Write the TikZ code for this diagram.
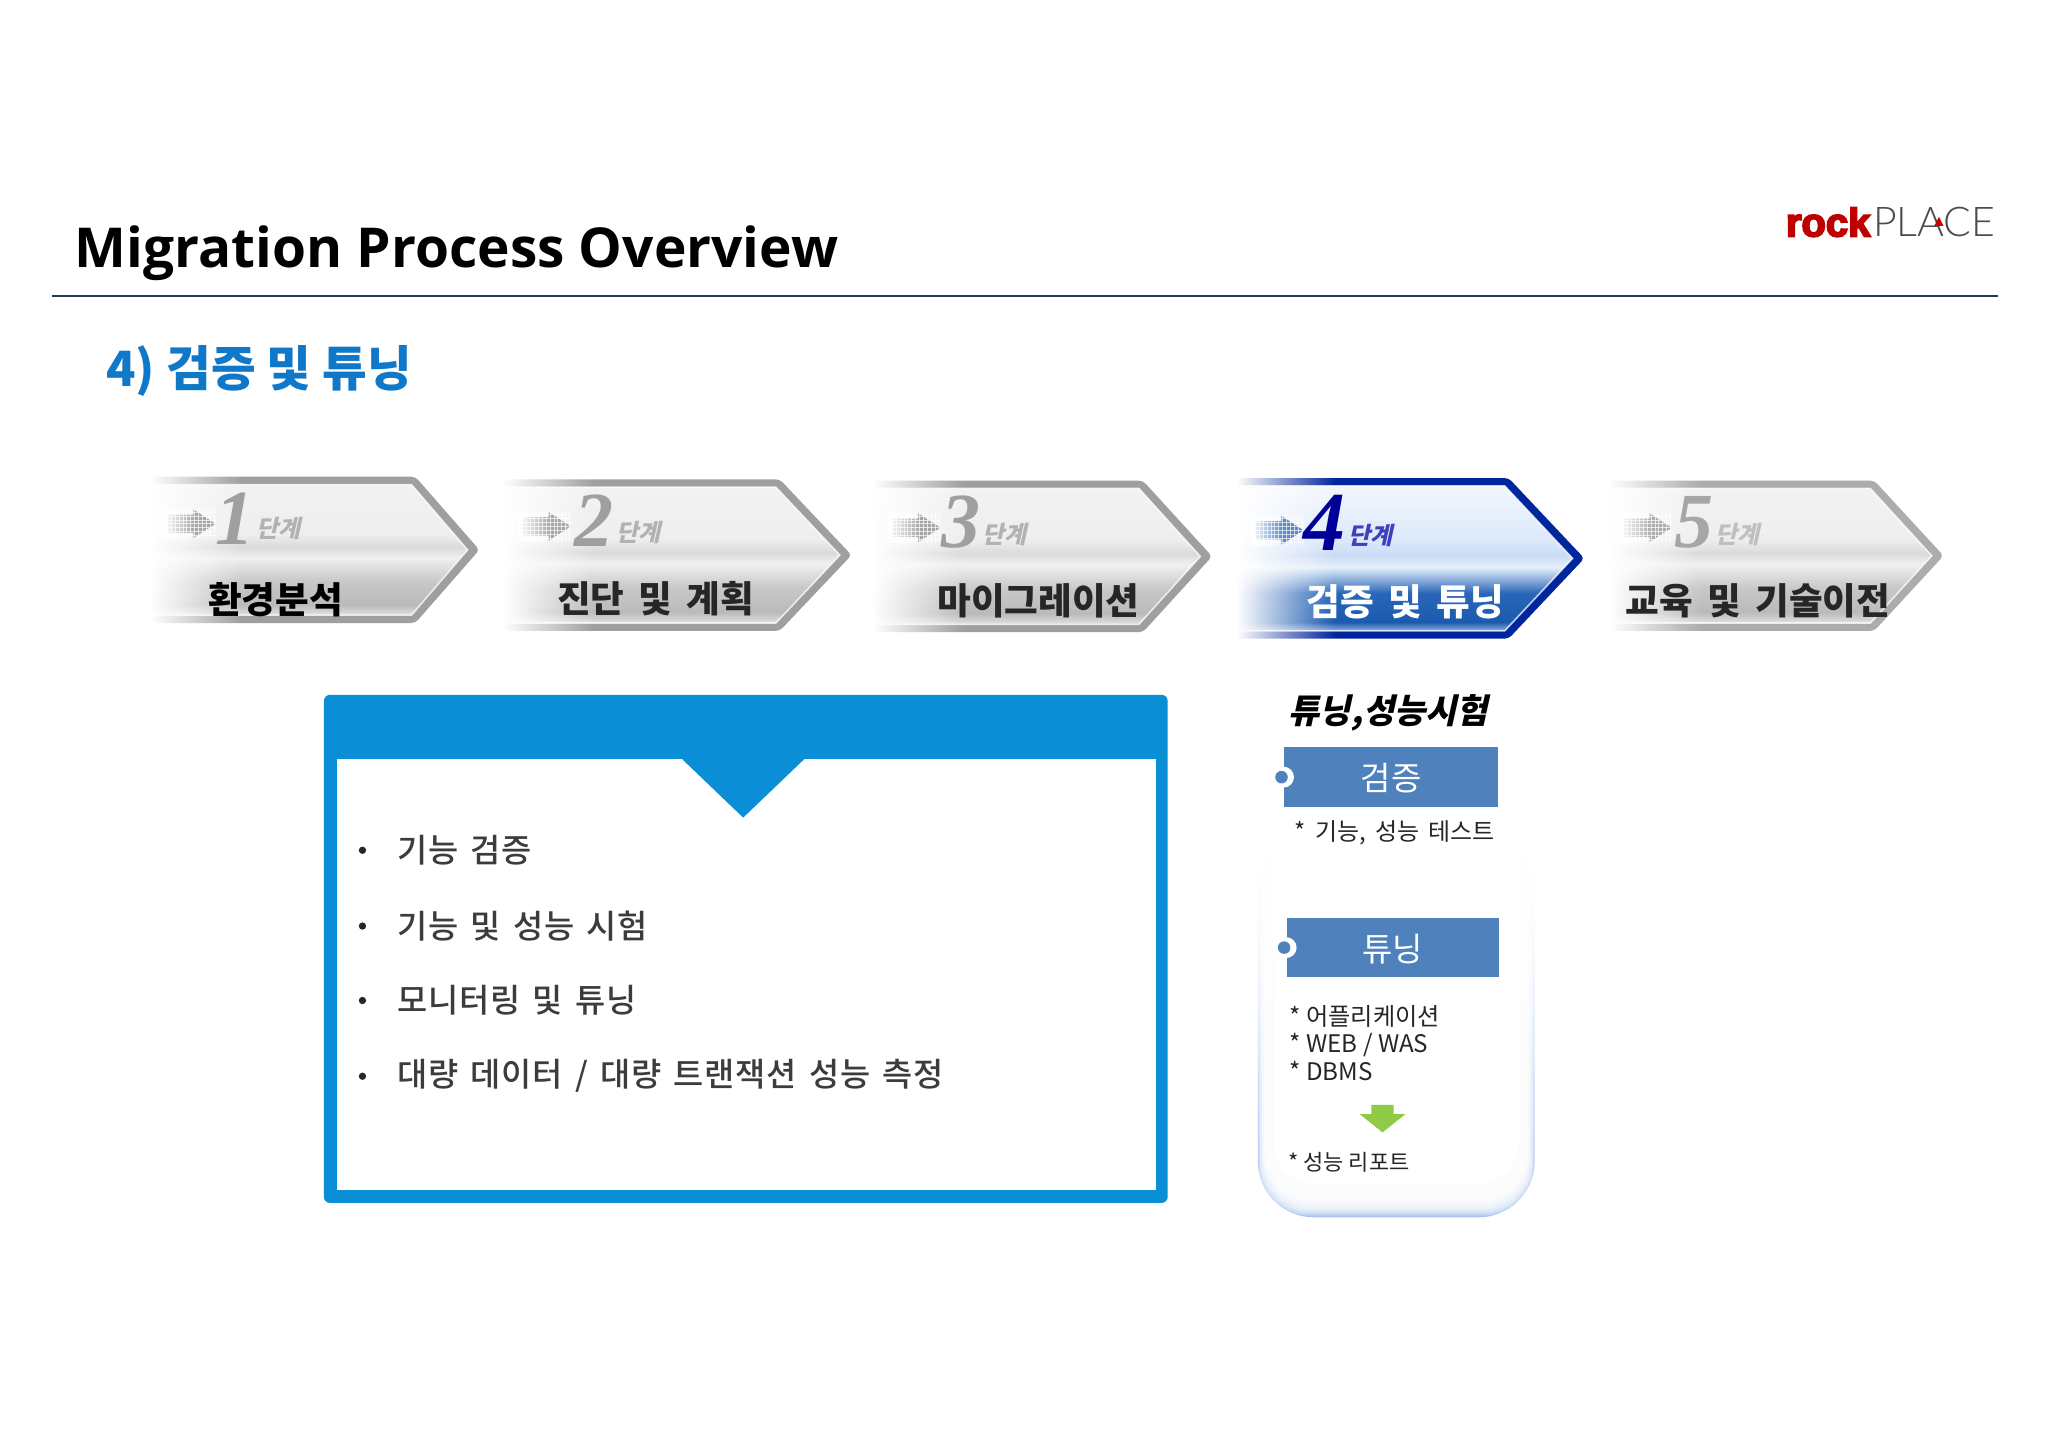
\documentclass[tikz,border=0pt]{standalone}
\usepackage{fontspec}
\usetikzlibrary{fadings}
\setmainfont[WordSpace=1.7]{Noto Sans CJK KR}
\newfontfamily\krplain{Noto Sans CJK KR}
\newfontfamily\krslant[FakeSlant=0.22]{Noto Sans CJK KR}
\newfontfamily\krmed[WordSpace=1.5]{Noto Sans CJK KR Medium}
\newfontfamily\latinhead{Open Sans}
\newfontfamily\digitfont{Liberation Serif}
\newfontfamily\logoA[FakeBold=4.5]{Liberation Sans}
\newfontfamily\logoB{Lato Light}
\definecolor{navy}{HTML}{1F3A63}
\definecolor{headblue}{HTML}{0F78C8}
\definecolor{frameblue}{HTML}{0A8FD6}
\definecolor{boxblue}{HTML}{4F81BD}
\definecolor{panelblue}{HTML}{A8C4EE}
\definecolor{panelmid}{HTML}{F3F7FD}
\definecolor{greenarrow}{HTML}{8FCB45}
\definecolor{txt}{HTML}{262626}
\definecolor{cgA}{HTML}{F2F2F2}\definecolor{cgB}{HTML}{EEEEEE}\definecolor{cgC}{HTML}{DADADA}
\definecolor{cgD}{HTML}{F0F0F0}\definecolor{cgE}{HTML}{C8C8C8}\definecolor{cgF}{HTML}{BABABA}\definecolor{cgG}{HTML}{E2E2E2}
\definecolor{cbA}{HTML}{F2F7FE}\definecolor{cbB}{HTML}{DCE8FA}\definecolor{cbC}{HTML}{C8DBF5}
\definecolor{cbD}{HTML}{E6F0FC}\definecolor{cbE}{HTML}{2A66B8}\definecolor{cbF}{HTML}{1B5AAE}\definecolor{cbG}{HTML}{8FB0E0}
\pgfdeclareverticalshading{chevgray}{100bp}{color(0bp)=(cgG); color(25bp)=(cgG); color(29bp)=(cgF); color(38bp)=(cgE); color(47bp)=(cgD); color(51bp)=(cgC); color(56bp)=(cgB); color(75bp)=(cgA); color(100bp)=(cgA)}
\pgfdeclareverticalshading{chevblue}{100bp}{color(0bp)=(cbG); color(25bp)=(cbG); color(28bp)=(cbF); color(38bp)=(cbE); color(47bp)=(cbD); color(51bp)=(cbC); color(56bp)=(cbB); color(75bp)=(cbA); color(100bp)=(cbA)}
\tikzset{
  x=0.653pt,y=-0.653pt,
  chevlabel/.style={font=\fontsize{18.3}{20}\selectfont\bfseries,inner sep=0pt,anchor=center},
  digitlabel/.style={font=\digitfont\fontsize{39}{39}\selectfont\bfseries\itshape,inner sep=0pt,anchor=center},
  steplabel/.style={font=\krslant\fontsize{12}{12}\selectfont\bfseries,inner sep=0pt,anchor=center},
  bulletitem/.style={font=\krmed\fontsize{16.4}{18}\selectfont\addfontfeature{LetterSpace=2.5},text=txt!90!white,inner sep=0pt,anchor=west},
  noteitem/.style={font=\krplain\fontsize{12.1}{14}\selectfont,text=txt,inner sep=0pt,anchor=west},
  boxlabel/.style={font=\krplain\fontsize{16.5}{20}\selectfont,text=white,inner sep=0pt,anchor=center},
}
\tikzfading[name=fadeout,left color=transparent!0,right color=transparent!100]
\tikzfading[name=fadedown,top color=transparent!0,bottom color=transparent!100]
\newcommand{\chevron}[9]{%
  \def\cL{#1}\def\cR{#2}\def\cS{#3}\def\cT{#4}\def\cB{#5}%
  \pgfmathsetmacro\cM{(\cT+\cB)/2}%
  \pgfmathsetmacro\cTi{\cT+6}\pgfmathsetmacro\cBi{\cB-6}%
  \pgfmathsetmacro\cSi{\cS-3}\pgfmathsetmacro\cRi{\cR-8}%
  \fill[#6,rounded corners=2] (\cL,\cT) -- (\cS,\cT) -- (\cR+2,\cM) -- (\cS,\cB) -- (\cL,\cB) -- cycle;
  \shade[shading=#7] (\cL,\cTi) -- (\cSi,\cTi) -- (\cRi+1,\cM) -- (\cSi,\cBi) -- (\cL,\cBi) -- cycle;
  \draw[white,opacity=.75,line width=.8pt] (\cL,\cBi) -- (\cSi,\cBi) -- (\cRi+1,\cM) -- (\cSi,\cTi) -- (\cL,\cTi);
  \fill[white] (\cL-3,\cT-1) rectangle (\cL+1,\cB+1);
  \fill[white,path fading=fadeout] (\cL,\cT-1) rectangle (\cL+#8,\cB+1);
  #9%
}
\newcommand{\markarrow}[3]{% x, y, colour
  \fill[#3] (#1+3,#2-7) -- (#1+23,#2-7) -- (#1+23,#2-11) -- (#1+40,#2) -- (#1+23,#2+11) -- (#1+23,#2+7) -- (#1+3,#2+7) -- cycle;
  \foreach \k in {0,...,13}{\draw[white,opacity=.7,line width=.3pt] (#1+\k*3,#2-12) -- (#1+\k*3,#2+12);}
  \foreach \k in {-3,...,3}{\draw[white,opacity=.7,line width=.3pt] (#1,#2+\k*3) -- (#1+40,#2+\k*3);}
  \fill[white,path fading=fadeout] (#1,#2-12) rectangle (#1+24,#2+12);
}
\begin{document}
\begin{tikzpicture}
\useasboundingbox (0,0) rectangle (1568,1108);
\fill[white] (0,0) rectangle (1568,1108);
% header
\node[font=\latinhead\fontsize{27.5}{34}\selectfont\bfseries,text=black,inner sep=0pt,anchor=base west] (title) at (57,205) {Migration Process Overview};
\node[inner sep=0pt] (rule) at (785,227) {};
\draw[navy,line width=1pt] (40,227) -- (rule.center) -- (1530,227);
\node[font=\krplain\fontsize{24.3}{26}\selectfont\bfseries,text=headblue,inner sep=0pt,anchor=west] (sub) at (81,284) {4) 검증 및 튜닝};
% logo
\node[font=\logoA\fontsize{20}{22}\selectfont\bfseries,text=red!75!black,inner sep=0pt,anchor=base west] (rock) at (1367,181) {rock};
\node[font=\logoB\fontsize{20.5}{22}\selectfont,text=black!70,inner sep=0pt,anchor=base east] (place) at (1528,181) {PLACE};
\fill[red!80!black] (1484.5,166) -- (1481,173) -- (1488,173) -- cycle;
% chevrons
\chevron{115}{365}{318}{365}{477}{gray!75}{chevgray}{70}{%
  \markarrow{125}{401}{gray!70}
  \node[digitlabel,text=gray!75] (d1) at (180,397) {1};
  \node[steplabel,text=gray!60] (s1) at (213,405) {단계};
  \node[chevlabel,text=black] (l1) at (211,459) {환경분석};}
\chevron{385}{650}{597}{367}{483}{gray!75}{chevgray}{70}{%
  \markarrow{397}{403}{gray!70}
  \node[digitlabel,text=gray!75] (d2) at (455,399) {2};
  \node[steplabel,text=gray!60] (s2) at (489,408) {단계};
  \node[chevlabel,text=txt] (l2) at (502,458) {진단 및 계획};}
\chevron{668}{926}{875}{368}{484}{gray!75}{chevgray}{70}{%
  \markarrow{680}{404}{gray!70}
  \node[digitlabel,text=gray!75] (d3) at (736,400) {3};
  \node[steplabel,text=gray!60] (s3) at (769,409) {단계};
  \node[chevlabel,text=txt] (l3) at (795,460) {마이그레이션};}
\chevron{947}{1211}{1155}{366}{489}{blue!55!black!85!cyan}{chevblue}{75}{%
  \markarrow{958}{406}{cyan!45!blue!70}
  \node[digitlabel,text=blue!60!black,font=\digitfont\fontsize{42}{42}\selectfont\bfseries\itshape] (d4) at (1014,400) {4};
  \node[steplabel,text=blue!50!gray] (s4) at (1049,410) {단계};
  \node[chevlabel,text=white] (l4) at (1076,461) {검증 및 튜닝};}
\chevron{1232}{1486}{1435}{368}{483}{gray!65}{chevgray}{70}{%
  \markarrow{1240}{404}{gray!65}
  \node[digitlabel,text=gray!70] (d5) at (1297,400) {5};
  \node[steplabel,text=gray!50] (s5) at (1330,409) {단계};
  \node[chevlabel,text=txt] (l5) at (1346,460) {교육 및 기술이전};}
% left frame
\fill[frameblue,rounded corners=3] (248,532) rectangle (894,921);
\fill[white] (258,581) rectangle (885,911);
\fill[frameblue] (521,580) -- (617,580) -- (569,626) -- cycle;
\foreach \yy/\nm/\tx in {651/a/{기능 검증},709/b/{기능 및 성능 시험},766/c/{모니터링 및 튜닝},824/d/{대량 데이터 / 대량 트랜잭션 성능 측정}}{
  \fill[txt] (277.5,\yy) circle (2.8);
  \node[bulletitem] (item\nm) at (304,\yy) {\tx};
}
% right panel
\shade[top color=white,middle color=panelmid,bottom color=panelblue,rounded corners=28] (963,640) rectangle (1175,932);
\foreach \i in {1,...,16}{
  \pgfmathsetmacro\inx{\i*.7}\pgfmathsetmacro\iny{\i*1.5}
  \fill[white,opacity=.3,rounded corners=24] (963+\inx,600) rectangle (1175-\inx,932-\iny);
}
\fill[white,rounded corners=20] (975,600) rectangle (1163,906);
\fill[white,path fading=fadedown] (960,636) rectangle (1178,830);
\node[font=\krslant\fontsize{17}{20}\selectfont\bfseries,text=black,inner sep=0pt,anchor=center] (pt) at (1063,546) {튜닝,성능시험};
\node[fill=boxblue,minimum width=164*0.653pt,minimum height=46*0.653pt,inner sep=0pt] (b1) at (1065,595) {};
\node[boxlabel] (b1t) at (1065,596) {검증};
\fill[white] (b1.west) circle (8);
\fill[boxblue] ([xshift=-1]b1.west) circle (4.8);
\node[noteitem,font=\fontsize{12}{14}\selectfont] (n1) at (991,638) {* 기능, 성능 테스트};
\node[fill=boxblue,minimum width=163*0.653pt,minimum height=45*0.653pt,inner sep=0pt] (b2) at (1066.5,725.5) {};
\node[boxlabel] (b2t) at (1066.5,726.5) {튜닝};
\fill[white] (b2.west) circle (8);
\fill[boxblue] ([xshift=-1]b2.west) circle (4.8);
\node[noteitem] (n2) at (987,778) {* 어플리케이션};
\node[noteitem] (n3) at (987,800) {* WEB / WAS};
\node[noteitem] (n4) at (987,820) {* DBMS};
\fill[greenarrow] (1050,846) -- (1067,846) -- (1067,853) -- (1076,853) -- (1058.5,867) -- (1041,853) -- (1050,853) -- cycle;
\node[noteitem,font=\krplain\fontsize{11}{12}\selectfont] (n5) at (986,890) {* 성능 리포트};
\end{tikzpicture}
\end{document}
